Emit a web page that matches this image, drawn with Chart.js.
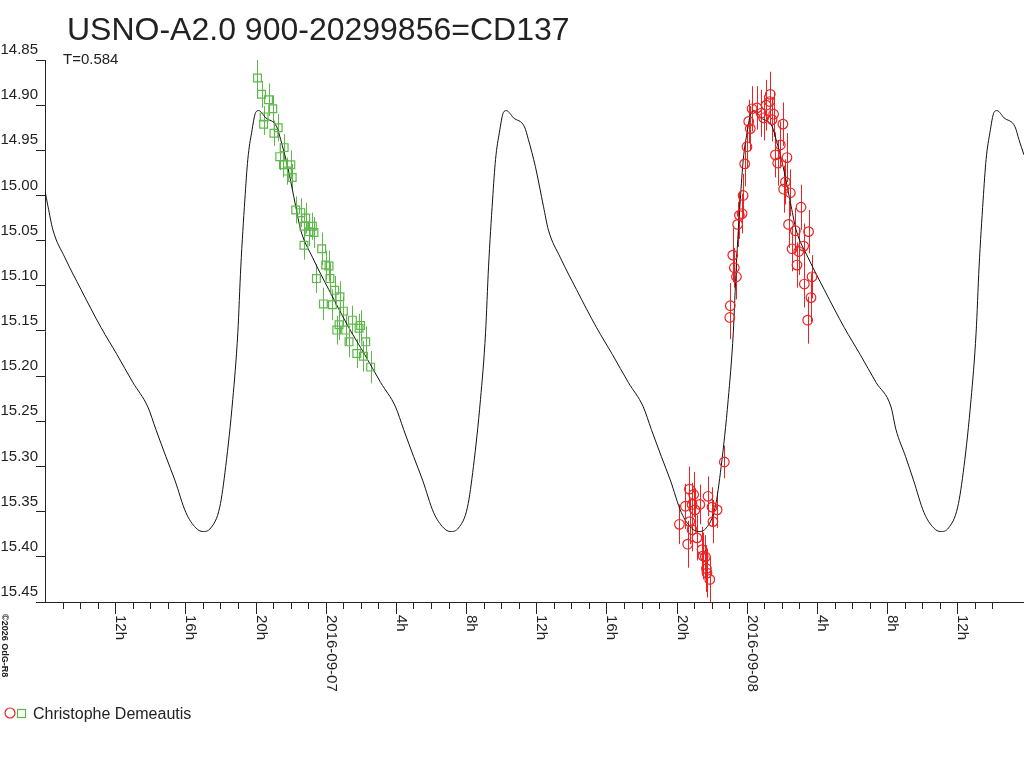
<!DOCTYPE html>
<html>
<head>
<meta charset="utf-8">
<title>USNO-A2.0 900-20299856=CD137</title>
<script src="https://cdn.jsdelivr.net/npm/chart.js@4/dist/chart.umd.min.js"></script>
<style>
  html, body { margin: 0; padding: 0; background: #fff; }
  canvas { display: block; }
</style>
</head>
<body>
<canvas id="lc" width="1024" height="768"></canvas>
<script>
// hours are counted from 2016-09-07 00:00
const curveHours = [
  -16.00, -15.83, -15.55, -14.86, -13.95, -12.81, -11.90, -10.99, -10.14, -9.68, -9.11, -8.60, -7.97, -7.40, -7.01,
  -6.55, -6.04, -5.70, -5.30, -5.01, -4.84, -4.61, -4.44, -4.22, -3.99, -3.82,
  -3.42, -2.79, -2.57, -2.17, -1.71, -1.43, -0.74, 0.17, 1.31, 2.22, 3.13, 3.98, 4.44, 5.01, 5.52, 6.15, 6.72, 7.11,
  7.57, 8.08, 8.42, 8.82, 9.11, 9.28, 9.51, 9.68, 9.90, 10.13, 10.30,
  10.70, 11.33, 11.55, 11.95, 12.41, 12.69, 13.38, 14.29, 15.43, 16.34, 17.25, 18.10, 18.56, 19.13, 19.64, 20.27, 20.84, 21.23,
  21.69, 22.20, 22.54, 22.94, 23.23, 23.40, 23.63, 23.80, 24.02, 24.25, 24.42,
  24.82, 25.45, 25.67, 26.07, 26.53, 26.81, 27.50, 28.41, 29.55, 30.46, 31.37, 32.22, 32.50, 33.05, 33.50, 34.10, 34.65, 35.05,
  35.50, 36.02, 36.38, 36.78, 37.07, 37.24, 37.47, 37.64, 37.86, 38.09, 38.26,
  38.66, 39.29, 39.51, 39.80
];
const curveMags = [
  14.995, 15.012, 15.038, 15.069, 15.104, 15.146, 15.176, 15.207, 15.234, 15.259, 15.289, 15.315, 15.351, 15.368, 15.372,
  15.368, 15.345, 15.300, 15.226, 15.152, 15.079, 15.005, 14.960, 14.930, 14.908, 14.906,
  14.914, 14.924, 14.938, 14.968, 15.012, 15.038, 15.069, 15.104, 15.146, 15.176, 15.207, 15.234, 15.259, 15.289, 15.315, 15.351, 15.368, 15.372,
  15.368, 15.345, 15.300, 15.226, 15.152, 15.079, 15.005, 14.960, 14.930, 14.908, 14.906,
  14.914, 14.924, 14.938, 14.968, 15.012, 15.038, 15.069, 15.104, 15.146, 15.176, 15.207, 15.234, 15.259, 15.289, 15.315, 15.351, 15.368, 15.372,
  15.368, 15.345, 15.300, 15.226, 15.152, 15.079, 15.005, 14.960, 14.930, 14.908, 14.906,
  14.914, 14.924, 14.938, 14.968, 15.012, 15.038, 15.069, 15.104, 15.146, 15.176, 15.207, 15.234, 15.259, 15.289, 15.315, 15.351, 15.368, 15.372,
  15.368, 15.345, 15.300, 15.226, 15.152, 15.079, 15.005, 14.960, 14.930, 14.908, 14.906,
  14.914, 14.924, 14.938, 14.955
];

// green squares
const greenHours = [
  -3.89, -3.66, -3.26, -3.02, -3.51, -3.54, -2.71, -2.95, -2.37, -2.62, -2.41, -1.99, -2.18, -1.91,
  -1.71, -1.42, -1.14, -1.24, -0.95, -0.67, -0.76, -1.24, -0.23, 0.00, 0.19, -0.53, 0.24, 0.51, 0.81,
  -0.13, 0.38, 1.01, 0.76, 0.63, 1.14, 1.52, 1.99, 1.90, 1.33, 2.28, 1.77, 2.15, 2.56
];
const greenMags = [
  14.870, 14.888, 14.894, 14.904, 14.913, 14.921, 14.925, 14.931, 14.947, 14.957, 14.966, 14.966, 14.973, 14.980,
  15.016, 15.019, 15.025, 15.034, 15.040, 15.041, 15.034, 15.055, 15.059, 15.077, 15.078, 15.092, 15.092, 15.105, 15.112,
  15.120, 15.121, 15.128, 15.143, 15.149, 15.149, 15.138, 15.144, 15.147, 15.162, 15.162, 15.175, 15.178, 15.190
];
const greenErrs = [
  0.020, 0.015, 0.018, 0.015, 0.012, 0.012, 0.015, 0.014, 0.015, 0.015, 0.014, 0.016, 0.015, 0.015,
  0.015, 0.016, 0.017, 0.015, 0.016, 0.017, 0.015, 0.016, 0.018, 0.016, 0.017, 0.016, 0.017, 0.016, 0.017,
  0.018, 0.017, 0.016, 0.017, 0.016, 0.017, 0.016, 0.017, 0.016, 0.017, 0.017, 0.016, 0.017, 0.018
];

// red circles
const redHours = [
  22.72, 20.73, 20.97, 21.79, 20.50, 20.88, 21.32, 22.02, 22.31, 21.05, 20.16, 20.75, 22.07, 20.88, 20.63, 21.16,
  21.45, 21.51, 21.64, 21.70, 21.73, 21.89,
  23.06, 23.03, 23.20, 23.29, 23.41, 23.48, 23.58, 23.73, 23.79, 23.88, 24.01, 24.20, 24.11, 24.30, 24.58, 24.81,
  24.96, 25.11, 25.34, 25.30, 25.53, 25.44, 26.06, 25.91, 25.63, 25.76, 26.29, 26.20, 26.10, 26.48, 27.09, 26.38,
  26.77, 27.52, 27.24, 26.58, 26.96, 26.86, 27.28, 27.72, 27.66, 27.47
];
const redMags = [
  15.295, 15.325, 15.331, 15.333, 15.344, 15.342, 15.342, 15.345, 15.348, 15.348, 15.364, 15.361, 15.361, 15.370, 15.386, 15.379,
  15.392, 15.399, 15.400, 15.413, 15.418, 15.425,
  15.122, 15.135, 15.066, 15.080, 15.090, 15.032, 15.022, 15.020, 15.000, 14.965, 14.946, 14.926, 14.918, 14.904, 14.903, 14.909,
  14.914, 14.900, 14.888, 14.896, 14.910, 14.916, 14.921, 14.944, 14.955, 14.964, 14.958, 14.985, 14.993, 14.997, 15.013, 15.032,
  15.039, 15.040, 15.056, 15.059, 15.062, 15.077, 15.098, 15.090, 15.113, 15.138
];
const redErrs = [
  0.018, 0.025, 0.025, 0.022, 0.025, 0.024, 0.022, 0.022, 0.020, 0.024, 0.022, 0.025, 0.024, 0.024, 0.026, 0.025,
  0.025, 0.026, 0.024, 0.026, 0.027, 0.026,
  0.025, 0.024, 0.030, 0.022, 0.025, 0.025, 0.026, 0.022, 0.024, 0.025, 0.024, 0.025, 0.024, 0.025, 0.024, 0.026,
  0.025, 0.028, 0.025, 0.026, 0.025, 0.024, 0.024, 0.026, 0.025, 0.025, 0.027, 0.025, 0.026, 0.026, 0.025, 0.026,
  0.025, 0.024, 0.025, 0.025, 0.026, 0.025, 0.026, 0.024, 0.027, 0.026
];

const dayHours = [0, 24];
const dayNames = ['2016-09-07', '2016-09-08'];

const titleText = 'USNO-A2.0 900-20299856=CD137';
const subText = 'T=0.584';
const observer = 'Christophe Demeautis';
const creditText = '\u00a92026 OdG-R8';

const RED = 'rgb(238,34,34)';
const GREEN = 'rgb(92,184,72)';
const INK = '#222';
const FONT = '"Liberation Sans", Arial, sans-serif';

function pairs(xs, ys) {
  return xs.map((v, i) => ({ x: v, y: ys[i] }));
}

const overlay = {
  id: 'overlay',
  beforeDatasetsDraw(chart) {
    const { ctx, chartArea: a, scales: { x, y } } = chart;
    ctx.save();
    ctx.beginPath();
    ctx.rect(a.left, a.top, a.right - a.left, a.bottom - a.top);
    ctx.clip();
    ctx.lineWidth = 1;
    [[greenHours, greenMags, greenErrs, GREEN], [redHours, redMags, redErrs, RED]].forEach(([hs, ms, es, col]) => {
      ctx.strokeStyle = col;
      ctx.beginPath();
      hs.forEach((h, i) => {
        const px = Math.round(x.getPixelForValue(h)) + 0.5;
        ctx.moveTo(px, y.getPixelForValue(ms[i] - es[i]));
        ctx.lineTo(px, y.getPixelForValue(ms[i] + es[i]));
      });
      ctx.stroke();
    });
    ctx.restore();
  },
  afterDraw(chart) {
    const { ctx, chartArea: a, scales: { x } } = chart;
    ctx.save();
    ctx.strokeStyle = INK;
    ctx.fillStyle = INK;
    ctx.lineWidth = 1;

    // hour ticks, longer every 4 hours
    ctx.beginPath();
    x.ticks.forEach(t => {
      if (!Number.isInteger(t.value) || t.value <= x.min) return;
      const px = Math.round(x.getPixelForValue(t.value)) + 0.5;
      ctx.moveTo(px, a.bottom);
      ctx.lineTo(px, a.bottom + (t.value % 4 === 0 ? 12 : 7));
    });
    ctx.stroke();

    // rotated hour / date labels
    ctx.font = '15px ' + FONT;
    ctx.textAlign = 'left';
    ctx.textBaseline = 'alphabetic';
    x.ticks.forEach(t => {
      if (!t.label || t.value <= x.min) return;
      const px = Math.round(x.getPixelForValue(t.value));
      ctx.save();
      ctx.translate(px + 1, a.bottom + 13);
      ctx.rotate(Math.PI / 2);
      ctx.fillText(t.label, 0, 0);
      ctx.restore();
    });

    // title
    ctx.font = '32px ' + FONT;
    ctx.fillText(titleText, 67, 40);
    ctx.font = '15px ' + FONT;
    ctx.fillText(subText, 63, 64);

    // legend
    ctx.lineWidth = 1.2;
    ctx.strokeStyle = RED;
    ctx.beginPath();
    ctx.arc(10, 713, 5, 0, Math.PI * 2);
    ctx.stroke();
    ctx.strokeStyle = GREEN;
    ctx.strokeRect(17.5, 709.5, 8, 8);
    ctx.fillStyle = INK;
    ctx.font = '16px ' + FONT;
    ctx.fillText(observer, 33, 719);

    // credit
    ctx.font = 'bold 9px ' + FONT;
    ctx.translate(2, 614);
    ctx.rotate(Math.PI / 2);
    ctx.fillText(creditText, 0, 0);
    ctx.restore();
  }
};

new Chart(document.getElementById('lc').getContext('2d'), {
  type: 'scatter',
  data: {
    datasets: [
      {
        label: 'model',
        data: pairs(curveHours, curveMags),
        showLine: true,
        borderColor: '#111',
        borderWidth: 1,
        pointRadius: 0,
        cubicInterpolationMode: 'monotone',
        order: 3
      },
      {
        label: observer,
        data: pairs(greenHours, greenMags),
        pointStyle: 'rect',
        pointRadius: 5.5,
        borderColor: GREEN,
        backgroundColor: 'rgba(0,0,0,0)',
        borderWidth: 1.2,
        order: 2
      },
      {
        label: observer,
        data: pairs(redHours, redMags),
        pointStyle: 'circle',
        pointRadius: 4.8,
        borderColor: RED,
        backgroundColor: 'rgba(0,0,0,0)',
        borderWidth: 1.2,
        order: 1
      }
    ]
  },
  options: {
    responsive: false,
    animation: false,
    devicePixelRatio: 1,
    layout: { autoPadding: false, padding: { top: 60, left: 0, right: 0, bottom: 0 } },
    plugins: {
      legend: { display: false },
      tooltip: { enabled: false }
    },
    scales: {
      x: {
        type: 'linear',
        min: -16,
        max: 39.8,
        afterFit: s => { s.height = 166; },
        grid: { display: false, drawTicks: false },
        border: { display: true, color: INK, width: 1 },
        ticks: {
          display: false,
          stepSize: 1,
          callback: v => {
            const d = dayHours.indexOf(v);
            if (d >= 0) return dayNames[d];
            if (v % 4 === 0) return (((v % 24) + 24) % 24) + 'h';
            return '';
          }
        }
      },
      y: {
        reverse: true,
        min: 14.85,
        max: 15.45,
        afterFit: s => { s.width = 45; },
        grid: { drawOnChartArea: false, drawTicks: true, tickLength: 9, tickColor: INK },
        border: { display: true, color: INK, width: 1 },
        ticks: {
          stepSize: 0.05,
          color: INK,
          font: { size: 15, family: FONT },
          padding: -2,
          labelOffset: -10,
          callback: v => v.toFixed(2)
        }
      }
    }
  },
  plugins: [overlay]
});
</script>
</body>
</html>
